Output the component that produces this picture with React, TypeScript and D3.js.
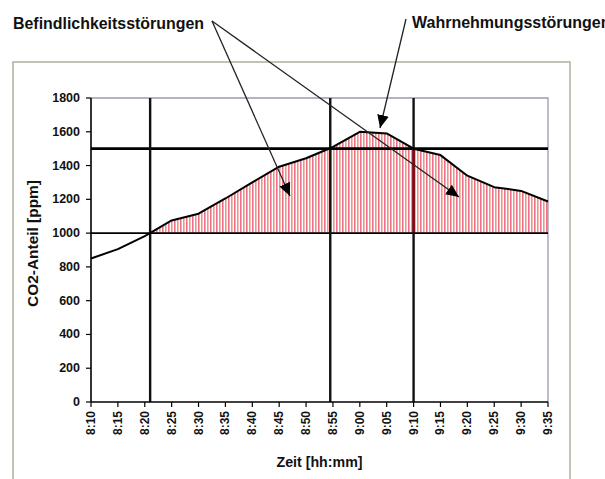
import React from "react";
import * as d3 from "d3";

// Data: CO2 concentration over time (minutes after 8:00)
const timeLabels = ["8:10","8:15","8:20","8:25","8:30","8:35","8:40","8:45","8:50","8:55","9:00","9:05","9:10","9:15","9:20","9:25","9:30","9:35"];
const co2Values = [850, 905, 982, 1075, 1115, 1205, 1300, 1393, 1443, 1510, 1600, 1590, 1500, 1462, 1340, 1272, 1250, 1187];
const yTicks = [0, 200, 400, 600, 800, 1000, 1200, 1400, 1600, 1800];
const thresholds = [1000, 1500];
const markerMinutes = [21, 54.5, 70];
const annotations = ["Befindlichkeitsstörungen", "Wahrnehmungsstörungen"];

const toMin = (s: string) => {
  const [h, m] = s.split(":").map(Number);
  return (h - 8) * 60 + m;
};

export default function App() {
  const W = 605, H = 479;
  const x = d3.scaleLinear().domain([10, 95]).range([91, 548]);
  const y = d3.scaleLinear().domain([0, 1800]).range([402, 98]);
  const pts: [number, number][] = timeLabels.map((t, i) => [toMin(t), co2Values[i]]);
  const line = d3.line<[number, number]>().x(d => x(d[0])).y(d => y(d[1]));
  const area = d3.area<[number, number]>().x(d => x(d[0])).y0(y(1000)).y1(d => y(d[1]));
  const font = "'Liberation Sans', Arial, sans-serif";
  const [x0, x1] = x.range();
  const [yb, yt] = y.range();

  return (
    <div style={{ position: "absolute", left: 0, top: 0 }}>
      <svg width={W} height={H} style={{ display: "block", background: "#fff" }}>
        <defs>
          <pattern id="stripes" width={6} height={10} patternUnits="userSpaceOnUse">
            <rect x={0} y={0} width={1.6} height={10} fill="#e9708c" />
            <rect x={3} y={0} width={1.6} height={10} fill="#f0967e" />
          </pattern>
          <clipPath id="above1000">
            <rect x={x0} y={yt} width={x1 - x0} height={y(1000) - yt} />
          </clipPath>
          <marker id="arrow" viewBox="0 0 10 10" refX={10} refY={5} markerWidth={13} markerHeight={13} markerUnits="userSpaceOnUse" orient="auto">
            <path d="M0,0.5 L10,5 L0,9.5 Z" fill="#000" />
          </marker>
        </defs>

        {/* outer frame */}
        <rect x={13} y={62} width={557} height={440} fill="none" stroke="#aeae9e" strokeWidth={1.5} />

        {/* plot border top/right */}
        <path d={`M${x0},${yt} H${x1} V${yb}`} fill="none" stroke="#9a9ab4" strokeWidth={1.3} />

        {/* hatched area */}
        <path d={area(pts) || ""} fill="url(#stripes)" clipPath="url(#above1000)" />

        {/* threshold lines */}
        {thresholds.map((t, i) => (
          <line key={t} x1={x0} x2={x1} y1={y(t)} y2={y(t)} stroke="#000" strokeWidth={i === 0 ? 1.6 : 2.6} />
        ))}

        {/* vertical markers */}
        {markerMinutes.map(m => (
          <line key={m} x1={x(m)} x2={x(m)} y1={yt} y2={yb} stroke="#111" strokeWidth={2.4} />
        ))}
        <line x1={x(markerMinutes[2])} x2={x(markerMinutes[2])} y1={y(1500) + 1.5} y2={y(1000) - 1} stroke="#9a0010" strokeWidth={2.4} />

        {/* data line */}
        <path d={line(pts) || ""} fill="none" stroke="#000" strokeWidth={2} strokeLinejoin="round" />

        {/* axes */}
        <line x1={x0} x2={x0} y1={yt} y2={yb} stroke="#000" strokeWidth={1.6} />
        <line x1={x0} x2={x1} y1={yb} y2={yb} stroke="#000" strokeWidth={1.6} />
        {yTicks.map(v => (
          <g key={v}>
            <line x1={x0 - 5} x2={x0} y1={y(v)} y2={y(v)} stroke="#000" strokeWidth={1.2} />
            <text x={80} y={y(v)} textAnchor="end" dominantBaseline="central" fontFamily={font} fontWeight="bold" fontSize={12.5} fill="#111">{v}</text>
          </g>
        ))}
        {timeLabels.map(t => (
          <g key={t}>
            <line x1={x(toMin(t))} x2={x(toMin(t))} y1={yb} y2={yb + 5} stroke="#000" strokeWidth={1.2} />
            <text transform={`translate(${x(toMin(t))},411) rotate(-90)`} textAnchor="end" dominantBaseline="central" fontFamily={font} fontWeight="bold" fontSize={12} fill="#111">{t}</text>
          </g>
        ))}

        {/* axis titles */}
        <text transform={`translate(33,243.5) rotate(-90)`} textAnchor="middle" dominantBaseline="central" fontFamily={font} fontWeight="bold" fontSize={14} textLength={127} lengthAdjust="spacingAndGlyphs" fill="#111">CO2-Anteil [ppm]</text>
        <text x={(x0 + x1) / 2} y={467} textAnchor="middle" fontFamily={font} fontWeight="bold" fontSize={14} textLength={86} lengthAdjust="spacingAndGlyphs" fill="#111">Zeit [hh:mm]</text>

        {/* annotations */}
        <text x={13} y={29} fontFamily={font} fontWeight="bold" fontSize={16} textLength={191} lengthAdjust="spacingAndGlyphs" fill="#111">{annotations[0]}</text>
        <text x={412} y={27.5} fontFamily={font} fontWeight="bold" fontSize={16} fill="#111">{annotations[1]}</text>
        <line x1={212} y1={21} x2={290} y2={196} stroke="#222" strokeWidth={1.3} markerEnd="url(#arrow)" />
        <line x1={212} y1={21} x2={459} y2={197} stroke="#222" strokeWidth={1.3} markerEnd="url(#arrow)" />
        <line x1={406} y1={19} x2={380} y2={128} stroke="#222" strokeWidth={1.3} markerEnd="url(#arrow)" />
      </svg>
    </div>
  );
}
